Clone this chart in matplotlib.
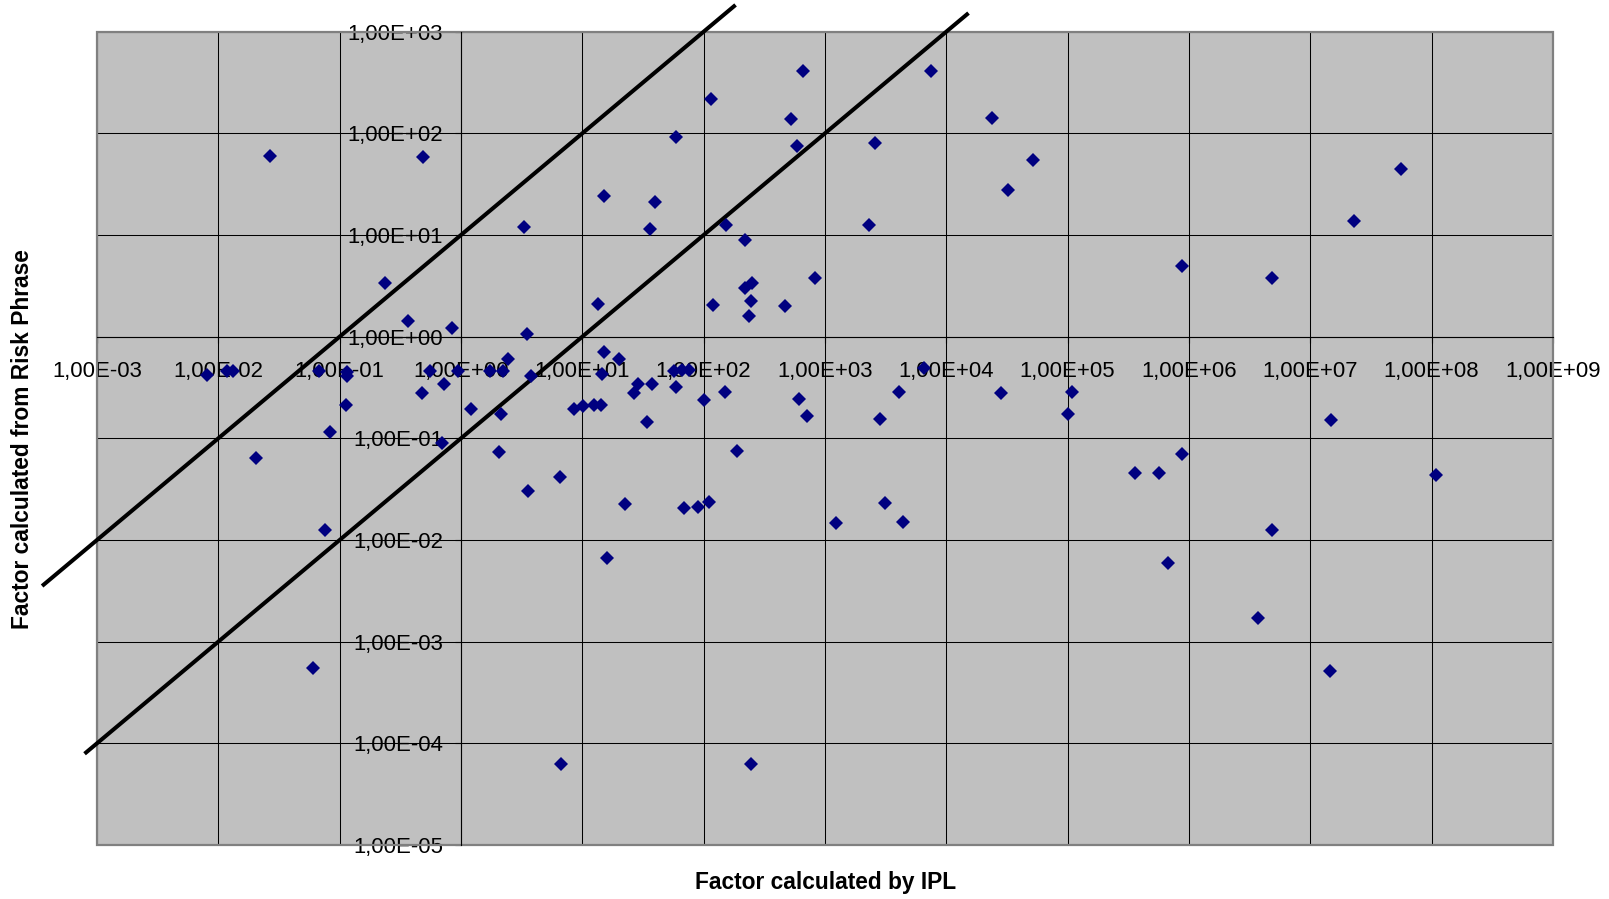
import numpy as np
import matplotlib
matplotlib.use("Agg")
import matplotlib.pyplot as plt
from matplotlib.ticker import FuncFormatter, FixedLocator, NullLocator
from matplotlib.patches import Rectangle

# factor calculated by IPL (x) vs factor calculated from risk phrase (y)
ipl = [2.67e-2, 0.49, 0.238, 660, 114, 520, 59, 590, 15.2, 40,
       3.3, 36, 154, 218, 830, 218, 252, 247, 13.5, 119,
       466, 7500, 24000, 2600, 52000, 32000, 2300, 8.7e5, 5.6e7, 2.3e7,
       4.8e6, 0.366, 0.84, 8.0e-3, 1.17e-2, 1.31e-2, 6.8e-2, 0.115, 0.115, 0.56,
       0.95, 0.48, 0.73, 0.113, 8.3e-2, 1.22, 0.70, 2.04e-2, 7.5e-2, 3.5,
       2.45, 1.73, 2.23, 3.8, 15, 20, 14.4, 28.5, 37.6, 26.4,
       57, 66, 75, 59, 100, 149, 607, 706, 2.14, 8.6,
       10.1, 12.5, 14.2, 33.8, 2.07, 188, 6.6, 3.56, 22.4, 69,
       90, 110, 16.1, 235, 6500, 4050, 2860, 28000, 1.09e5, 1.0e5,
       3.57e5, 5.66e5, 8.8e5, 3100, 1230, 4420, 6.7e5, 1.49e7, 1.09e8, 4.8e6,
       6.05e-2, 6.7, 244, 3.7e6, 1.46e7]
risk_phrase = [60, 58, 3.4, 410, 216, 137, 92, 75, 24, 21,
               11.9, 11.5, 12.5, 8.9, 3.8, 3.0, 3.4, 2.24, 2.1, 2.05,
               2.0, 410, 143, 80, 55, 27.5, 12.4, 4.9, 45, 13.7,
               3.75, 1.43, 1.23, 0.415, 0.46, 0.46, 0.46, 0.45, 0.41, 0.455,
               0.455, 0.28, 0.34, 0.213, 0.115, 0.194, 0.09, 6.4e-2, 1.25e-2, 1.07,
               0.60, 0.46, 0.46, 0.41, 0.71, 0.60, 0.43, 0.346, 0.34, 0.276,
               0.46, 0.47, 0.47, 0.32, 0.24, 0.286, 0.243, 0.165, 0.173, 0.193,
               0.21, 0.215, 0.215, 0.144, 7.3e-2, 7.5e-2, 4.2e-2, 3.0e-2, 2.26e-2, 2.04e-2,
               2.12e-2, 2.36e-2, 6.6e-3, 1.61, 0.49, 0.286, 0.155, 0.278, 0.286, 0.175,
               4.6e-2, 4.6e-2, 6.95e-2, 2.33e-2, 1.48e-2, 1.5e-2, 6.0e-3, 0.151, 4.4e-2, 1.24e-2,
               5.5e-4, 6.2e-5, 6.2e-5, 1.7e-3, 5.1e-4]

# the two reference lines: y = 10*x and y = x/10
upper_x = np.array([10 ** -3.44, 10 ** 2.25])
lower_x = np.array([10 ** -3.09, 10 ** 4.17])

x_ticks = [10.0 ** k for k in range(-3, 10)]
y_ticks = [10.0 ** k for k in range(-5, 4)]

plt.rcParams['font.family'] = ['Liberation Sans', 'DejaVu Sans']

fig = plt.figure(figsize=(16.09, 8.99), dpi=100)
ax = fig.add_axes([0.0603, 0.0601, 0.9049, 0.9047])
ax.set_facecolor('#C0C0C0')
ax.set_xscale('log')
ax.set_yscale('log')
ax.set_xlim(x_ticks[0], x_ticks[-1])
ax.set_ylim(y_ticks[0], y_ticks[-1])

ax.xaxis.set_major_locator(FixedLocator(x_ticks))
ax.yaxis.set_major_locator(FixedLocator(y_ticks))
ax.xaxis.set_minor_locator(NullLocator())
ax.yaxis.set_minor_locator(NullLocator())
excel_fmt = FuncFormatter(lambda v, p: f"{v:.2E}".replace('.', ','))
ax.xaxis.set_major_formatter(excel_fmt)
ax.yaxis.set_major_formatter(excel_fmt)

# axes cross at 1 like in the excel chart
ax.spines['left'].set_position(('data', 1))
ax.spines['bottom'].set_position(('data', 1))
ax.spines['top'].set_visible(False)
ax.spines['right'].set_visible(False)
for s in ['left', 'bottom']:
    ax.spines[s].set_linewidth(0.8)
ax.add_patch(Rectangle((0, 0), 1, 1, transform=ax.transAxes, fill=False,
                       edgecolor='#808080', lw=1.6, clip_on=False, zorder=1.6))

ax.grid(True, color='black', lw=0.75)
ax.tick_params(axis='x', direction='out', length=4.3, width=0.8, pad=13, labelsize=15.9)
ax.tick_params(axis='y', direction='out', length=4.3, width=0.8, pad=8.6, labelsize=15.9)

ax.plot(upper_x, upper_x * 10, color='black', lw=2.9, clip_on=False, zorder=2.5)
ax.plot(lower_x, lower_x / 10, color='black', lw=2.9, clip_on=False, zorder=2.5)

ax.plot(ipl, risk_phrase, linestyle='none', marker='D', markersize=7.2,
        color='#000080', markeredgewidth=0, zorder=3)

fig.text(0.5128, 0.0184, 'Factor calculated by IPL', ha='center', va='center',
         fontsize=16.4, fontweight='bold')
fig.text(0.01405, 0.5117, 'Factor calculated from Risk Phrase', ha='center', va='center',
         rotation=90, fontsize=16.4, fontweight='bold')

fig.savefig('out.png', dpi=100)
